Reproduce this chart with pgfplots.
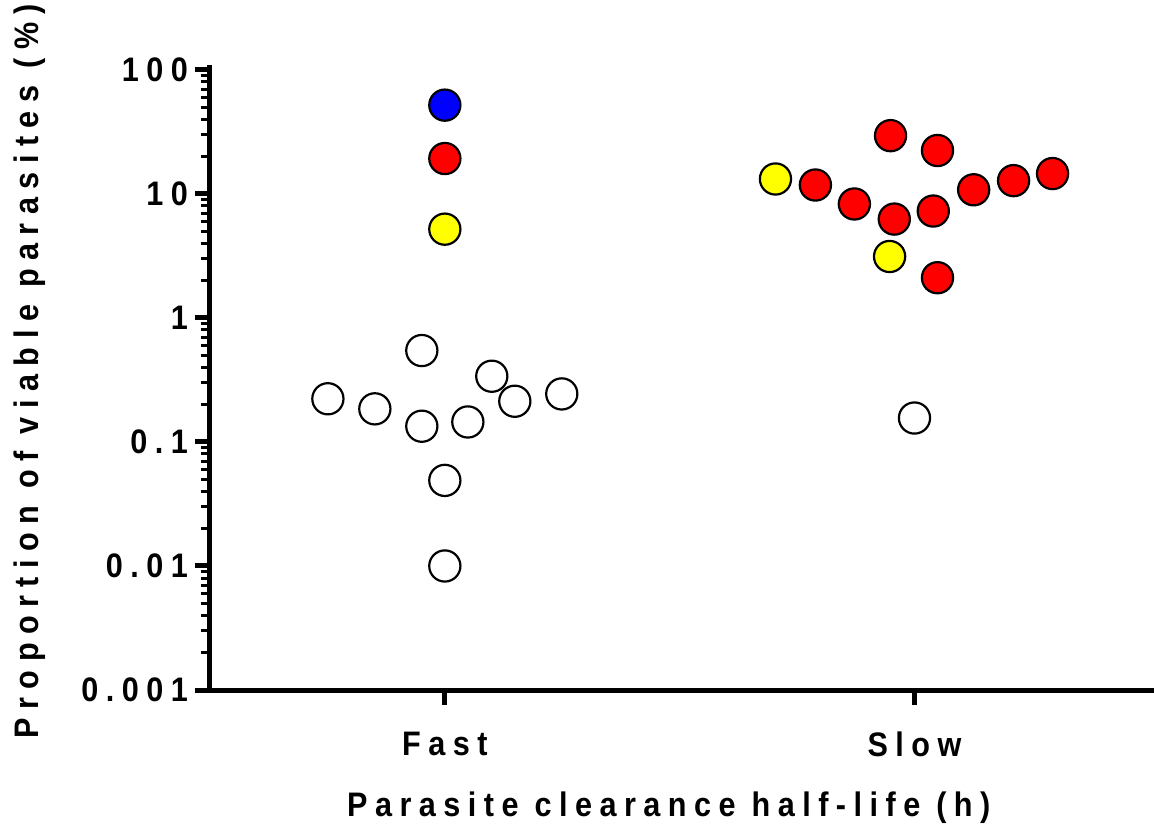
\documentclass[border=0pt]{standalone}
\usepackage{fontspec}
\usepackage{pgfplots}
\pgfplotsset{compat=1.18}
\newfontfamily\chartfont[LetterSpace=22,FakeStretch=0.9]{Liberation Sans}
\newfontfamily\ylabfont[LetterSpace=25,FakeStretch=0.9]{Liberation Sans}
\newcommand{\lbl}{\chartfont\bfseries\fontsize{17}{20}\selectfont}
\newcommand{\ylbl}{\ylabfont\bfseries\fontsize{17}{20}\selectfont}
\definecolor{dotred}{RGB}{255,0,0}
\definecolor{dotblue}{RGB}{0,0,255}
\definecolor{dotyellow}{RGB}{255,255,0}

\begin{document}
\begin{tikzpicture}
\begin{axis}[
  scale only axis,
  width=472pt, height=312.6pt,
  xmin=0.5, xmax=2.51,
  ymode=log, ymin=0.001, ymax=110,
  axis lines=left,
  axis line style={-, line width=2.5pt},
  xtick={1,2}, xticklabels={Fast,Slow},
  ytick={0.001,0.01,0.1,1,10,100},
  yticklabels={0.001,0.01,0.1,1,10,100},
  minor ytick={0.002,0.003,0.004,0.005,0.006,0.007,0.008,0.009,
    0.02,0.03,0.04,0.05,0.06,0.07,0.08,0.09,
    0.2,0.3,0.4,0.5,0.6,0.7,0.8,0.9,
    2,3,4,5,6,7,8,9,
    20,30,40,50,60,70,80,90},
  tick align=outside,
  major tick length=7.5pt, minor tick length=4.5pt,
  major tick style={black, line width=2.5pt},
  minor tick style={black, line width=1.5pt},
  tick label style={font=\lbl},
  xticklabel style={yshift=-10pt},
  xlabel={Parasite clearance half-life (h)},
  ylabel={Proportion of viable parasites (\%)},
  xlabel style={font=\lbl, at={(axis description cs:0.486,-0.189)}, anchor=center},
  ylabel style={font=\ylbl, at={(axis description cs:-0.1907,0.51)}, anchor=center},
  clip=false,
]
\coordinate (O) at (rel axis cs:0,0);

% Fast: open circles
\addplot[only marks, mark=*, mark size=7.8pt,
  mark options={fill=white, draw=black, line width=1.1pt}] coordinates {
  (0.951,0.546) (0.751,0.223) (0.851,0.185) (0.951,0.134) (1.049,0.145)
  (1.100,0.339) (1.149,0.213) (1.249,0.244) (1.000,0.049) (1.000,0.010)
};
% Fast: coloured
\addplot[only marks, mark=*, mark size=7.8pt,
  mark options={fill=dotblue, draw=black, line width=1.1pt}] coordinates {
  (1.000,52)
};
\addplot[only marks, mark=*, mark size=7.8pt,
  mark options={fill=dotred, draw=black, line width=1.1pt}] coordinates {
  (1.000,19.3)
};
\addplot[only marks, mark=*, mark size=7.8pt,
  mark options={fill=dotyellow, draw=black, line width=1.1pt}] coordinates {
  (1.000,5.2)
};

% Slow
\addplot[only marks, mark=*, mark size=7.8pt,
  mark options={fill=dotyellow, draw=black, line width=1.1pt}] coordinates {
  (1.704,13.2) (1.947,3.13)
};
\addplot[only marks, mark=*, mark size=7.8pt,
  mark options={fill=dotred, draw=black, line width=1.1pt}] coordinates {
  (1.789,11.8) (1.872,8.3) (1.949,29.5) (2.049,22.4) (1.957,6.27)
  (2.040,7.28) (2.126,10.8) (2.211,12.8) (2.294,14.6) (2.049,2.11)
};
\addplot[only marks, mark=*, mark size=7.8pt,
  mark options={fill=white, draw=black, line width=1.1pt}] coordinates {
  (2.000,0.156)
};
\end{axis}
\pgfresetboundingbox
\useasboundingbox (O) ++(-105pt,-74pt) rectangle ++(577pt,419pt);
\end{tikzpicture}
\end{document}
